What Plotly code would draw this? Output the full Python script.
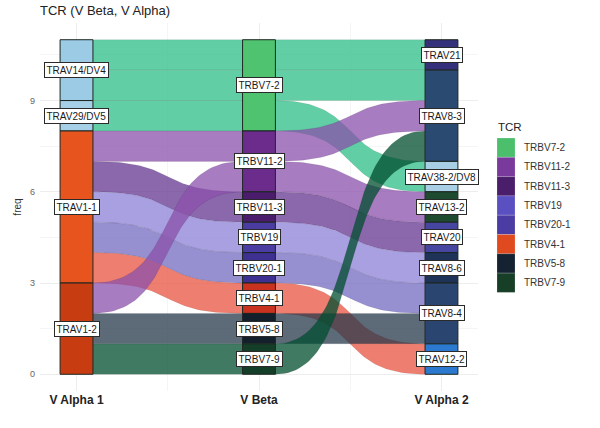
import numpy as np
import plotly.graph_objects as go

# ---------------- data ----------------
axis_names = ["V Alpha 1", "V Beta", "V Alpha 2"]
alpha1_levels = ["TRAV14/DV4", "TRAV29/DV5", "TRAV1-1", "TRAV1-2"]
beta_levels = ["TRBV7-2", "TRBV11-2", "TRBV11-3", "TRBV19", "TRBV20-1", "TRBV4-1", "TRBV5-8", "TRBV7-9"]
alpha2_levels = ["TRAV21", "TRAV8-3", "TRAV38-2/DV8", "TRAV13-2", "TRAV20", "TRAV8-6", "TRAV8-4", "TRAV12-2"]

v_alpha1 = ["TRAV14/DV4", "TRAV14/DV4", "TRAV29/DV5", "TRAV1-1", "TRAV1-1", "TRAV1-1",
            "TRAV1-1", "TRAV1-1", "TRAV1-2", "TRAV1-2", "TRAV1-2"]
v_beta = ["TRBV7-2", "TRBV7-2", "TRBV7-2", "TRBV11-2", "TRBV11-3", "TRBV19",
          "TRBV20-1", "TRBV4-1", "TRBV11-2", "TRBV5-8", "TRBV7-9"]
v_alpha2 = ["TRAV21", "TRAV8-3", "TRAV38-2/DV8", "TRAV8-3", "TRAV20", "TRAV8-6",
            "TRAV8-4", "TRAV12-2", "TRAV13-2", "TRAV8-4", "TRAV8-3"]
freq = [1, 1, 1, 1, 1, 1, 1, 1, 1, 1, 1]

# ---------------- styles ----------------
FONT = "Liberation Sans, Arial, sans-serif"
legend_colors = {
    "TRBV7-2": "#4cbf6c", "TRBV11-2": "#7a3a9c", "TRBV11-3": "#4b1e6c", "TRBV19": "#5a50c2",
    "TRBV20-1": "#4a3ca2", "TRBV4-1": "#e04a1f", "TRBV5-8": "#142231", "TRBV7-9": "#173f27",
}
flow_colors = {
    "TRBV7-2": "rgba(46,190,135,0.75)", "TRBV11-2": "rgba(139,80,171,0.75)",
    "TRBV11-3": "rgba(99,54,143,0.75)", "TRBV19": "rgba(139,128,214,0.75)",
    "TRBV20-1": "rgba(115,107,192,0.75)", "TRBV4-1": "rgba(232,84,64,0.75)",
    "TRBV5-8": "rgba(39,56,75,0.75)", "TRBV7-9": "rgba(0,78,47,0.75)",
}
stratum_colors = {
    "TRAV14/DV4": "#9ccbe6", "TRAV29/DV5": "#a6d0e8", "TRAV1-1": "#e8541e", "TRAV1-2": "#c83c12",
    "TRBV7-2": "#4fc36f", "TRBV11-2": "#6b2c8c", "TRBV11-3": "#4b1c6c", "TRBV19": "#4a3ca0",
    "TRBV20-1": "#3e3090", "TRBV4-1": "#c9321f", "TRBV5-8": "#13202c", "TRBV7-9": "#153e28",
    "TRAV21": "#35307a", "TRAV8-3": "#2b4a72", "TRAV38-2/DV8": "#a8cfe4", "TRAV13-2": "#1e4a30",
    "TRAV20": "#4646a0", "TRAV8-6": "#1f3258", "TRAV8-4": "#2a4670", "TRAV12-2": "#2c7ad0",
}
W = 0.18  # stratum width

columns = [v_alpha1, v_beta, v_alpha2]
levels = [alpha1_levels, beta_levels, alpha2_levels]
n = len(freq)
total = sum(freq)

# stratum extents
strata = []
for ax in range(3):
    d = {}
    top = total
    for lev in levels[ax]:
        s = sum(f for f, v in zip(freq, columns[ax]) if v == lev)
        d[lev] = (top - s, top)
        top -= s
    strata.append(d)


def lodes(ax, other):
    idx = lambda a, k: levels[a].index(columns[a][k])
    order = sorted(range(n), key=lambda k: (idx(ax, k), idx(other, k), k))
    pos = {}
    top = total
    for k in order:
        pos[k] = (top - freq[k], top)
        top -= freq[k]
    return pos


def curve(x0, x1, y0, y1, m=60, a=0.6):
    t = np.linspace(0, 1, m)
    dx = x1 - x0
    xs = (1 - t) ** 3 * x0 + 3 * (1 - t) ** 2 * t * (x0 + a * dx) + 3 * (1 - t) * t ** 2 * (x1 - a * dx) + t ** 3 * x1
    ys = (1 - t) ** 3 * y0 + 3 * (1 - t) ** 2 * t * y0 + 3 * (1 - t) * t ** 2 * y1 + t ** 3 * y1
    return xs, ys


fig = go.Figure()

# flows
for seg in range(2):
    left = lodes(seg, seg + 1)
    right = lodes(seg + 1, seg)
    xl = seg + 1 + W / 2
    xr = seg + 2 - W / 2
    for k in range(n):
        (lb, lt), (rb, rt) = left[k], right[k]
        xt, yt = curve(xl, xr, lt, rt)
        xb, yb = curve(xl, xr, lb, rb)
        xs = np.concatenate([xt, xb[::-1], xt[:1]])
        ys = np.concatenate([yt, yb[::-1], yt[:1]])
        fig.add_trace(go.Scatter(x=xs, y=ys, mode="lines", fill="toself",
                                 fillcolor=flow_colors[v_beta[k]],
                                 line=dict(color="rgba(0,0,0,0.12)", width=0.6),
                                 hoverinfo="skip", showlegend=False))

# strata
for ax in range(3):
    xc = ax + 1
    for lev, (b, t) in strata[ax].items():
        fig.add_trace(go.Scatter(
            x=[xc - W / 2, xc + W / 2, xc + W / 2, xc - W / 2, xc - W / 2],
            y=[b, b, t, t, b], mode="lines", fill="toself",
            fillcolor=stratum_colors[lev], line=dict(color="#1c2620", width=1),
            hoverinfo="skip", showlegend=False))
        fig.add_annotation(x=xc, y=(b + t) / 2, text=lev, showarrow=False,
                           font=dict(family=FONT, size=10, color="#1a1a1a"),
                           bgcolor="white", bordercolor="#2a2a2a", borderwidth=1, borderpad=1.5)

# legend (manual, positions in pixels converted to paper coords)
L, R, T, B = 40, 478, 23, 391


def px(x):
    return (x - L) / (R - L)


def py(y):
    return (B - y) / (B - T)


key_top, key_h = 138, 19.3
fig.add_annotation(x=px(496), y=py(127), xref="paper", yref="paper", text="TCR", showarrow=False,
                   xanchor="left", yanchor="middle", font=dict(family=FONT, size=11.5, color="#222"))
for i, lev in enumerate(beta_levels):
    y0 = key_top + i * key_h
    fig.add_shape(type="rect", xref="paper", yref="paper", x0=px(497), x1=px(515),
                  y0=py(y0 + key_h), y1=py(y0), fillcolor=legend_colors[lev],
                  line=dict(color="rgba(255,255,255,0.35)", width=0.5))
    fig.add_annotation(x=px(522), y=py(y0 + key_h / 2), xref="paper", yref="paper", text=lev,
                       showarrow=False, xanchor="left", yanchor="middle",
                       font=dict(family=FONT, size=10, color="#333"))

fig.update_layout(
    width=600, height=428, margin=dict(l=L, r=600 - R, t=T, b=428 - B),
    plot_bgcolor="white", paper_bgcolor="white", showlegend=False,
    title=dict(text="TCR (V Beta, V Alpha)", x=40 / 600, xanchor="left", xref="container",
               y=1 - 10 / 428, yanchor="middle", font=dict(family=FONT, size=13, color="#222")),
    xaxis=dict(range=[0.8, 3.2], tickvals=[1, 2, 3],
               ticktext=["<b>%s</b>" % a for a in axis_names],
               tickfont=dict(family=FONT, size=12, color="#222"),
               showgrid=True, gridcolor="#ededed", gridwidth=1, zeroline=False, ticks="",
               minor=dict(tickvals=[1.5, 2.5], showgrid=True, gridcolor="#f5f5f5")),
    yaxis=dict(range=[-0.55, 11.55], tickvals=[0, 3, 6, 9],
               tickfont=dict(family=FONT, size=9, color="#666"),
               showgrid=True, gridcolor="#ededed", zeroline=False, ticks="",
               ticklabelstandoff=4,
               minor=dict(tickvals=[1.5, 4.5, 7.5, 10.5], showgrid=True, gridcolor="#f5f5f5"),
               title=dict(text="freq", font=dict(family=FONT, size=10, color="#333"), standoff=6)),
)

fig.write_html("out.html", config={"displayModeBar": False},
               post_script="document.body.style.margin='0';")
